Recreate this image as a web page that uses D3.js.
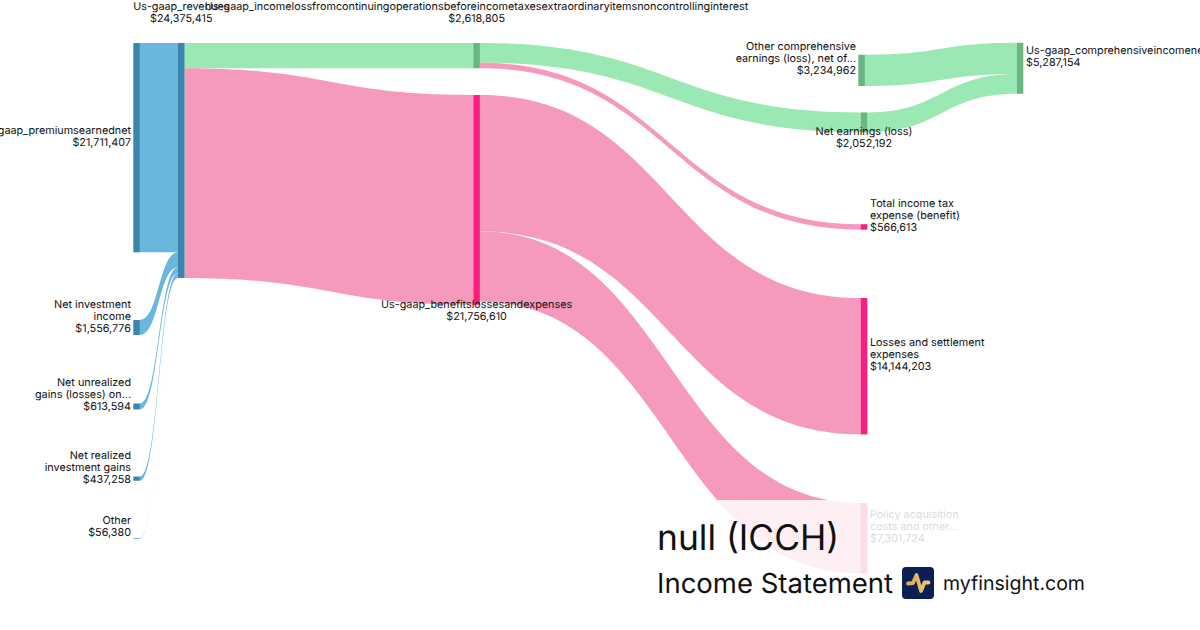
<!DOCTYPE html>
<html>
<head>
<meta charset="utf-8">
<script src="https://cdn.jsdelivr.net/npm/d3@7"></script>
<style>
html,body{margin:0;padding:0;background:#fff;overflow:hidden}
svg{display:block}
text{font-family:Inter,sans-serif;fill:#111;text-rendering:geometricPrecision}
</style>
</head>
<body>
<svg id="chart" width="1200" height="630"></svg>
<script>
// ---- data ----
const nodeIds = ["premium","invest","unreal","realized","other","revenue","income","benefits","oci","netearn","tax","losses","policy","comp"];
const nodeValues = [21711407,1556776,613594,437258,56380,24375415,2618805,21756610,3234962,2052192,566613,14144203,7301724,5287154];
const nodeLabels = [
  ["Us-gaap_premiumsearnednet"],
  ["Net investment","income"],
  ["Net unrealized","gains (losses) on..."],
  ["Net realized","investment gains"],
  ["Other"],
  ["Us-gaap_revenues"],
  ["Us-gaap_incomelossfromcontinuingoperationsbeforeincometaxesextraordinaryitemsnoncontrollinginterest"],
  ["Us-gaap_benefitslossesandexpenses"],
  ["Other comprehensive","earnings (loss), net of..."],
  ["Net earnings (loss)"],
  ["Total income tax","expense (benefit)"],
  ["Losses and settlement","expenses"],
  ["Policy acquisition","costs and other..."],
  ["Us-gaap_comprehensiveincomenetoftax"]
];
const linkSources = ["premium","invest","unreal","realized","other","revenue","revenue","income","income","benefits","benefits","oci","netearn"];
const linkTargets = ["revenue","revenue","revenue","revenue","revenue","income","benefits","netearn","tax","losses","policy","comp","comp"];
const linkValues = [21711407,1556776,613594,437258,56380,2618805,21756610,2052192,566613,14144203,7301724,3234962,2052192];
const titleText = "null (ICCH)";
const subtitleText = "Income Statement";
const brandText = "myfinsight.com";

// ---- layout (separate from the data) ----
const nodeLefts = [133.3,133.3,133.3,133.3,133.3,178,473.3,473.3,858.3,860.7,860.7,860.7,860.7,1016.7];
const nodeTops = [43,320,403.5,476.5,538,43,43,95,54.8,112.4,224.2,298,503,42.8];
const labelSides = ["left","left","left","left","left","top","top","bottom","left","bottom","right","right","right","right"];
const nodeWidth = 6.6;
const hueOf = {premium:"blue",invest:"blue",unreal:"blue",realized:"blue",other:"blue",revenue:"blue",
  income:"green",netearn:"green",oci:"green",comp:"green",
  benefits:"pink",tax:"pink",losses:"pink",policy:"pink"};
const nodeColor = {blue:"#3A85AB",green:"#69B583",pink:"#FA1F7F"};
const linkColor = {blue:"#6AB7DE",green:"#9AE8B3",pink:"#F59ABD"};

const fmt = d3.format("$,.0f");
const h = d3.scaleLinear().domain([0,24375415]).range([0,235]);
const svg = d3.select("#chart");

const nodes = nodeIds.map((id,i)=>({id,i,value:nodeValues[i],lines:nodeLabels[i],x:nodeLefts[i],y:nodeTops[i],
  height:h(nodeValues[i]),side:labelSides[i],hue:hueOf[id],outOffset:0,inOffset:0}));
const byId = new Map(nodes.map(n=>[n.id,n]));
const links = linkValues.map((value,i)=>{
  const s = byId.get(linkSources[i]), t = byId.get(linkTargets[i]);
  const w = h(value);
  const l = {value,w,s,t,y0:s.y+s.outOffset,y1:t.y+t.inOffset};
  s.outOffset += w; t.inOffset += w;
  return l;
});

const area = d3.area().curve(d3.curveBumpX).x(d=>d.x).y0(d=>d.y).y1(d=>d.y+d.w);
svg.append("g").selectAll("path").data(links).join("path")
  .attr("fill",d=>linkColor[d.s.hue==="blue"&&d.s.id!=="revenue"?"blue":d.t.hue])
  .attr("d",d=>area([{x:d.s.x+nodeWidth,y:d.y0,w:d.w},{x:d.t.x,y:d.y1,w:d.w}]));

svg.append("g").selectAll("rect").data(nodes).join("rect")
  .attr("x",d=>d.x).attr("y",d=>d.y).attr("width",nodeWidth).attr("height",d=>Math.max(d.height,0.6))
  .attr("fill",d=>nodeColor[d.hue]);

const lineH = 12;
svg.append("g").attr("font-size",10.8).selectAll("text").data(nodes).join("text")
  .attr("text-anchor",d=>d.side==="left"?"end":d.side==="right"?"start":"middle")
  .each(function(d){
    const rows = [...d.lines, fmt(d.value)];
    const n = rows.length;
    let x, top;
    if(d.side==="left"){x=d.x-2.3; top=d.y+d.height/2-6*(n+1);}
    else if(d.side==="right"){x=d.x+nodeWidth+2.7; top=d.y+d.height/2-6*(n+1);}
    else if(d.side==="top"){x=d.x+nodeWidth/2; top=d.y-37;}
    else {x=d.x+nodeWidth/2; top=d.y+d.height-1;}
    d3.select(this).selectAll("tspan").data(rows).join("tspan")
      .attr("x",x).attr("y",(r,i)=>top+i*lineH+4).text(r=>r);
  });

// translucent panel behind the title block
svg.append("rect").attr("x",640).attr("y",500).attr("width",460).attr("height",130).attr("fill","#fff").attr("fill-opacity",0.84);

svg.append("text").attr("x",657).attr("y",550).attr("font-size",35.4).text(titleText);
svg.append("text").attr("x",657).attr("y",593).attr("font-size",27.5).text(subtitleText);
const logo = svg.append("g").attr("transform","translate(902,567)");
const grad = svg.append("defs").append("linearGradient").attr("id","lg").attr("x1","0").attr("x2","1");
grad.append("stop").attr("offset","0").attr("stop-color","#D9A866");
grad.append("stop").attr("offset","1").attr("stop-color","#F2C66B");
logo.append("rect").attr("width",32).attr("height",32).attr("rx",4).attr("fill","#0A1F56");
logo.append("path").attr("d","M6 16.5 L11 16 L14.5 8 L19 24 L22.5 15.5 L26.5 15.5")
  .attr("fill","none").attr("stroke","url(#lg)").attr("stroke-width",3.8).attr("stroke-linecap","round").attr("stroke-linejoin","round");
svg.append("text").attr("x",943).attr("y",590).attr("font-size",19.5).text(brandText);
</script>
</body>
</html>
